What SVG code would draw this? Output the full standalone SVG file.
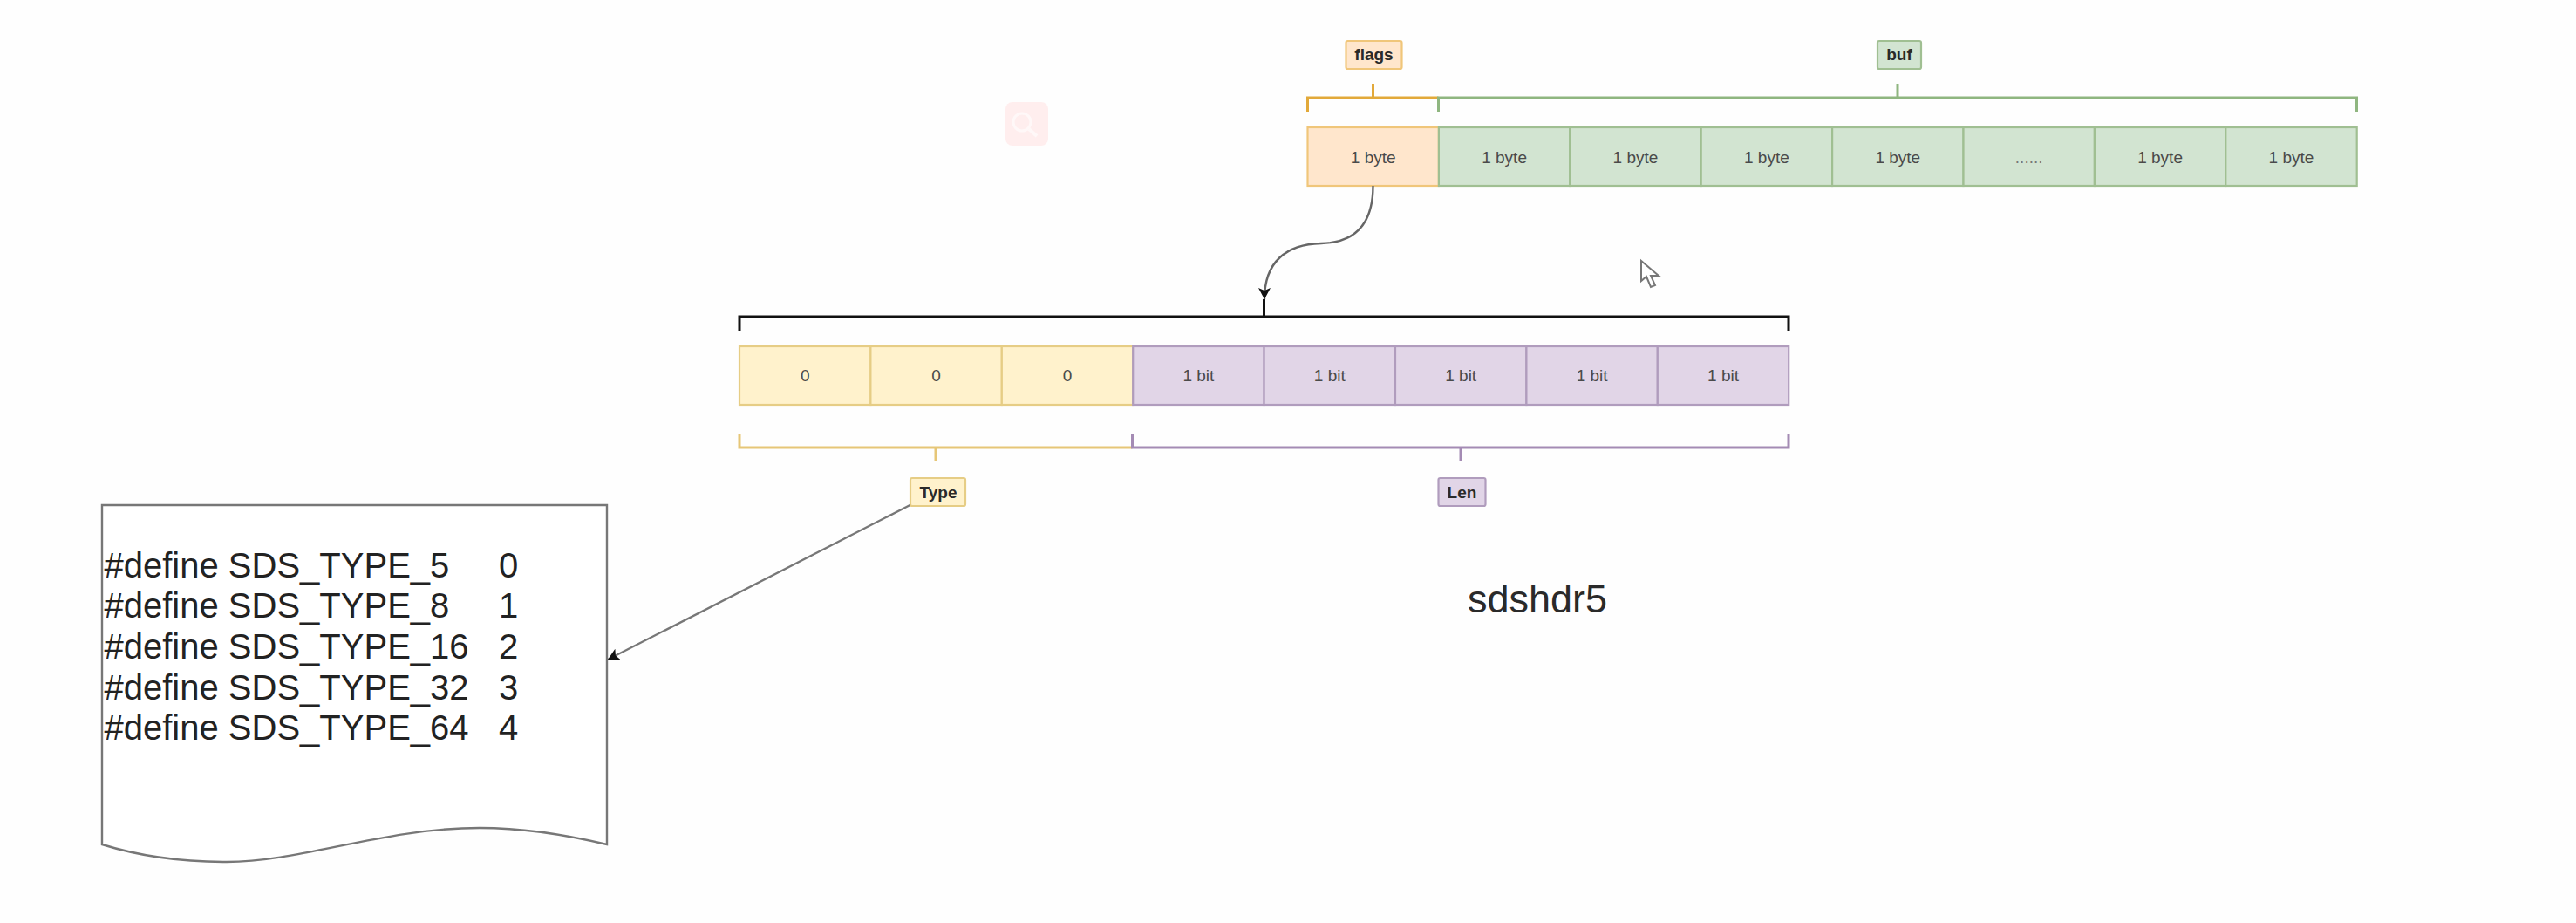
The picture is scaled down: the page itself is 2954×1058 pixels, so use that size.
<svg xmlns="http://www.w3.org/2000/svg" width="2954" height="1058" viewBox="0 0 2954 1058">
<defs>
<marker id="arrow" markerUnits="userSpaceOnUse" markerWidth="16" markerHeight="16" refX="13" refY="7.5" orient="auto"><path d="M0 0.5 L13 7.5 L0 14.5 L3 7.5 Z" fill="#111"/></marker>
</defs>
<style>
text{font-family:"Liberation Sans",Arial,sans-serif}
.cell{stroke-width:2.2}
.ct{font-size:19px;fill:#4a4a4a;text-anchor:middle}
.lb{font-size:19px;font-weight:bold;fill:#2a2a2a;text-anchor:middle}
.o{fill:#ffe6cc;stroke:#f0c67a}
.g{fill:#d2e4d1;stroke:#a0bf92}
.y{fill:#fff2cc;stroke:#e6cd85}
.p{fill:#e1d5e7;stroke:#b09cbd}
.br{fill:none;stroke-width:3}
.def{font-size:40px;fill:#222}
</style>
<rect width="2954" height="1058" fill="#fefefe"/>
<g id="search-icon">
<rect x="1153" y="117" width="49" height="50" rx="8" fill="#ffeeee"/>
<circle cx="1172" cy="140" r="10" fill="none" stroke="#fff8f8" stroke-width="3"/>
<line x1="1180" y1="148" x2="1189" y2="156" stroke="#fff8f8" stroke-width="4"/>
</g>
<g id="cursor">
<path d="M1882 299 L1882 322 L1888 317 L1893 329 L1898 327 L1893 316 L1902 316 Z" fill="#fff" stroke="#777" stroke-width="2"/>
</g>
<g id="flags-label"><rect class="cell o" x="1543.5" y="47" width="64" height="32" rx="2"/><text class="lb" x="1575.5" y="69">flags</text></g>
<g id="buf-label"><rect class="cell g" x="2153" y="47" width="50" height="32" rx="2"/><text class="lb" x="2178" y="69">buf</text></g>
<g id="byte-row">
<g id="byte-flags"><rect class="cell o" x="1499.5" y="146" width="150.4" height="67"/><text class="ct" x="1574.7" y="187">1 byte</text></g>
<g id="byte-1"><rect class="cell g" x="1649.9" y="146" width="150.4" height="67"/><text class="ct" x="1725.1" y="187">1 byte</text></g>
<g id="byte-2"><rect class="cell g" x="1800.3" y="146" width="150.4" height="67"/><text class="ct" x="1875.5" y="187">1 byte</text></g>
<g id="byte-3"><rect class="cell g" x="1950.7" y="146" width="150.4" height="67"/><text class="ct" x="2025.9" y="187">1 byte</text></g>
<g id="byte-4"><rect class="cell g" x="2101.1" y="146" width="150.4" height="67"/><text class="ct" x="2176.3" y="187">1 byte</text></g>
<g id="byte-dots"><rect class="cell g" x="2251.5" y="146" width="150.4" height="67"/><text class="ct" x="2326.7" y="187" style="fill:#777">......</text></g>
<g id="byte-5"><rect class="cell g" x="2401.9" y="146" width="150.4" height="67"/><text class="ct" x="2477.1" y="187">1 byte</text></g>
<g id="byte-6"><rect class="cell g" x="2552.3" y="146" width="150.4" height="67"/><text class="ct" x="2627.5" y="187">1 byte</text></g>
</g>
<g id="bit-row">
<g id="bit-t1"><rect class="cell y" x="848" y="397" width="150.4" height="67"/><text class="ct" x="923.2" y="437">0</text></g>
<g id="bit-t2"><rect class="cell y" x="998.4" y="397" width="150.4" height="67"/><text class="ct" x="1073.6" y="437">0</text></g>
<g id="bit-t3"><rect class="cell y" x="1148.8" y="397" width="150.4" height="67"/><text class="ct" x="1224" y="437">0</text></g>
<g id="bit-l1"><rect class="cell p" x="1299.2" y="397" width="150.4" height="67"/><text class="ct" x="1374.4" y="437">1 bit</text></g>
<g id="bit-l2"><rect class="cell p" x="1449.6" y="397" width="150.4" height="67"/><text class="ct" x="1524.8" y="437">1 bit</text></g>
<g id="bit-l3"><rect class="cell p" x="1600" y="397" width="150.4" height="67"/><text class="ct" x="1675.2" y="437">1 bit</text></g>
<g id="bit-l4"><rect class="cell p" x="1750.4" y="397" width="150.4" height="67"/><text class="ct" x="1825.6" y="437">1 bit</text></g>
<g id="bit-l5"><rect class="cell p" x="1900.8" y="397" width="150.4" height="67"/><text class="ct" x="1976" y="437">1 bit</text></g>
</g>
<g id="type-label"><rect class="cell y" x="1044" y="548" width="63" height="32" rx="2"/><text class="lb" x="1076" y="571">Type</text></g>
<g id="len-label"><rect class="cell p" x="1649.5" y="548" width="54" height="32" rx="2"/><text class="lb" x="1676.5" y="571">Len</text></g>
<g id="caption"><text x="1683" y="702" font-size="45" fill="#2a2a2a">sdshdr5</text></g>
<g id="defines">
<path d="M117 579 H696 V968 C650 957 600 949 550 949 C440 949 345 988 260 988 C215 988 165 983 117 968 Z" fill="#fff" stroke="#777" stroke-width="2.4"/>
<text class="def" x="119.5" y="661.7">#define SDS_TYPE_5<tspan x="572">0</tspan></text>
<text class="def" x="119.5" y="708.3">#define SDS_TYPE_8<tspan x="572">1</tspan></text>
<text class="def" x="119.5" y="755">#define SDS_TYPE_16<tspan x="572">2</tspan></text>
<text class="def" x="119.5" y="801.7">#define SDS_TYPE_32<tspan x="572">3</tspan></text>
<text class="def" x="119.5" y="848.3">#define SDS_TYPE_64<tspan x="572">4</tspan></text>
</g>
<g id="connectors">
<path class="br" d="M1499.5 128 V112 H1649.5 M1574.5 112 V96" stroke="#e2a93a"/>
<path class="br" d="M1649.5 128 V112 H2702.5 V128 M2176 112 V96" stroke="#8fb680"/>
<path class="br" d="M848 379 V363 H2051 V379 M1449.5 363 V343" stroke="#111"/>
<path class="br" d="M848 497 V513 H1298.5 M1073 513 V529" stroke="#e6c677"/>
<path class="br" d="M1298.5 497 V513 H2051 V497 M1675 513 V529" stroke="#a48bb4"/>
<path d="M1574.5 213 C1574.5 250 1560 278 1515 279 C1475 280 1450 300 1450 343" fill="none" stroke="#666" stroke-width="2.4" marker-end="url(#arrow)"/>
<line x1="1043.5" y1="579" x2="697" y2="756" stroke="#777" stroke-width="2.4" marker-end="url(#arrow)"/>
</g>
</svg>
